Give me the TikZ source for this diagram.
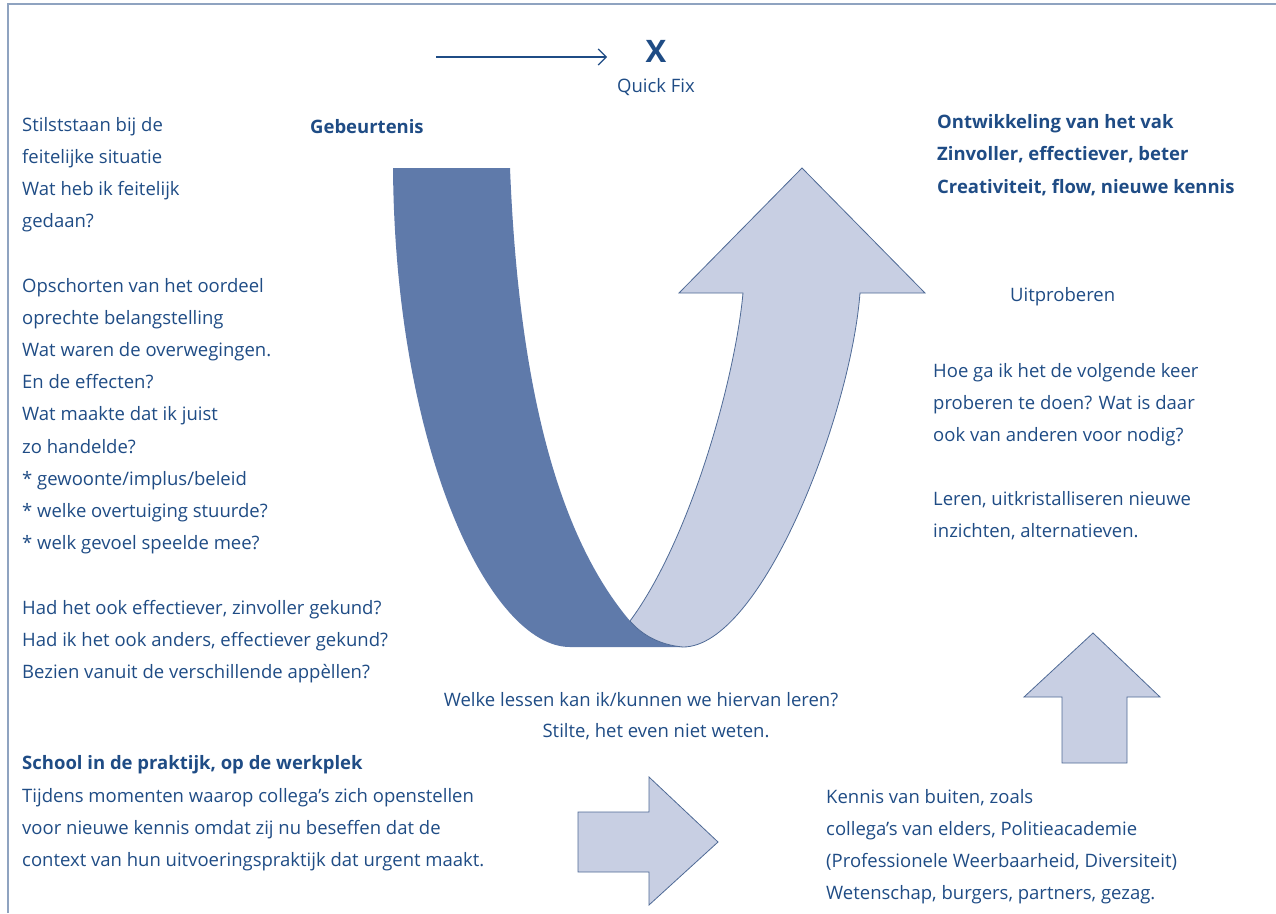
\documentclass[tikz,border=0pt]{standalone}
\usepackage{fontspec}
\setmainfont{Open Sans}
\usetikzlibrary{arrows.meta}

\begin{document}
\begin{tikzpicture}[x=1pt,y=-1pt,
    txt/.style={anchor=base west, inner sep=0pt, text=txt_blue, font=\fontsize{18.5}{21}\selectfont},
    txtb/.style={txt, font=\fontsize{18.5}{21}\selectfont\bfseries},
    blockarrow/.style={fill=band_light, draw=band_line, line width=0.8pt, line join=miter}]
    \definecolor{txt_blue}{HTML}{1F4C85}
    \definecolor{band_dark}{HTML}{5F7AAA}
    \definecolor{band_light}{HTML}{C8CFE3}
    \definecolor{band_line}{HTML}{4F6A96}
    \definecolor{frame_blue}{HTML}{8FA3C0}
    % \draw[help lines] (0,0) grid[step=50] (1276,913);
    \useasboundingbox (0,0) rectangle (1276,913);
    \draw[frame_blue, line width=1.5pt] (8,913) -- (8,4) -- (1276,4);

    % quick fix
    \coordinate (qstart) at (436,57);
    \coordinate (qend) at (607,57);
    \draw[txt_blue, line width=1.2pt, -{Straight Barb[length=8pt, width=16pt]}] (qstart) -- (qend);
    \node[txt_blue, font=\fontsize{31}{34}\selectfont\bfseries, anchor=base] (qx) at (656,62) {X};
    \node[txt, anchor=base] (quickfix) at (656,92) {Quick Fix};

    % the U: dark band down, light arrow up
    \path[fill=band_dark] (393,168) -- (510,168) .. controls (520,420) and (570,550) .. (630,621)
        .. controls (642,635) and (660,645) .. (683,647) -- (570,647)
        .. controls (490,647) and (395,450) .. (393,168) -- cycle;
    \path[blockarrow] (630,621) .. controls (690,540) and (735,380) .. (743,293)
        -- (679,293) -- (802,168) -- (925,293) -- (860,293)
        .. controls (850,420) and (760,647) .. (683,647)
        .. controls (660,645) and (642,635) .. (630,621) -- cycle;

    % small arrows
    \path[blockarrow] (578,812) -- (649,812) -- (649,777) -- (718,842) -- (649,905) -- (649,872) -- (578,872) -- cycle;
    \path[blockarrow] (1062,763) -- (1062,697) -- (1024,697) -- (1093,633) -- (1160,697) -- (1127,697) -- (1127,763) -- cycle;

    \node[txtb] (event) at (310,133) {Gebeurtenis};

    % left column
    \foreach \line [count=\i from 0] in {Stilststaan bij de, feitelijke situatie, Wat heb ik feitelijk, gedaan?}
        \node[txt] (facts-\i) at (22,131+32.2*\i) {\line};
    \foreach \line [count=\i from 0] in {Opschorten van het oordeel, oprechte belangstelling,
        Wat waren de overwegingen., En de effecten?, Wat maakte dat ik juist, zo handelde?,
        * gewoonte/implus/beleid, * welke overtuiging stuurde?, * welk gevoel speelde mee?}
        \node[txt] (judge-\i) at (22,292+32.2*\i) {\line};
    \foreach \line [count=\i from 0] in {{Had het ook effectiever, zinvoller gekund?},
        {Had ik het ook anders, effectiever gekund?}, Bezien vanuit de verschillende appèllen?}
        \node[txt] (other-\i) at (22,614+32.2*\i) {\line};

    % right column
    \foreach \line [count=\i from 0] in {Ontwikkeling van het vak, {Zinvoller, effectiever, beter},
        {Creativiteit, flow, nieuwe kennis}}
        \node[txtb] (growth-\i) at (937,128+32.5*\i) {\line};
    \node[txt] (tryout) at (1010,301) {Uitproberen};
    \foreach \line [count=\i from 0] in {Hoe ga ik het de volgende keer, proberen te doen? Wat is daar,
        ook van anderen voor nodig?}
        \node[txt] (next-\i) at (933,377+32.3*\i) {\line};
    \foreach \line [count=\i from 0] in {{Leren, uitkristalliseren nieuwe}, {inzichten, alternatieven.}}
        \node[txt] (learn-\i) at (933,505+32.3*\i) {\line};

    % bottom
    \node[txt, anchor=base] (lessons-0) at (641,706) {Welke lessen kan ik/kunnen we hiervan leren?};
    \node[txt, anchor=base] (lessons-1) at (656,737) {Stilte, het even niet weten.};
    \node[txtb] (school) at (22,769) {School in de praktijk, op de werkplek};
    \foreach \line [count=\i from 0] in {Tijdens momenten waarop collega’s zich openstellen,
        voor nieuwe kennis omdat zij nu beseffen dat de,
        context van hun uitvoeringspraktijk dat urgent maakt.}
        \node[txt] (school-\i) at (22,802+32*\i) {\line};
    \foreach \line [count=\i from 0] in {{Kennis van buiten, zoals}, {collega’s van elders, Politieacademie},
        {(Professionele Weerbaarheid, Diversiteit)}, {Wetenschap, burgers, partners, gezag.}}
        \node[txt] (outside-\i) at (826,803+32*\i) {\line};
\end{tikzpicture}
\end{document}
